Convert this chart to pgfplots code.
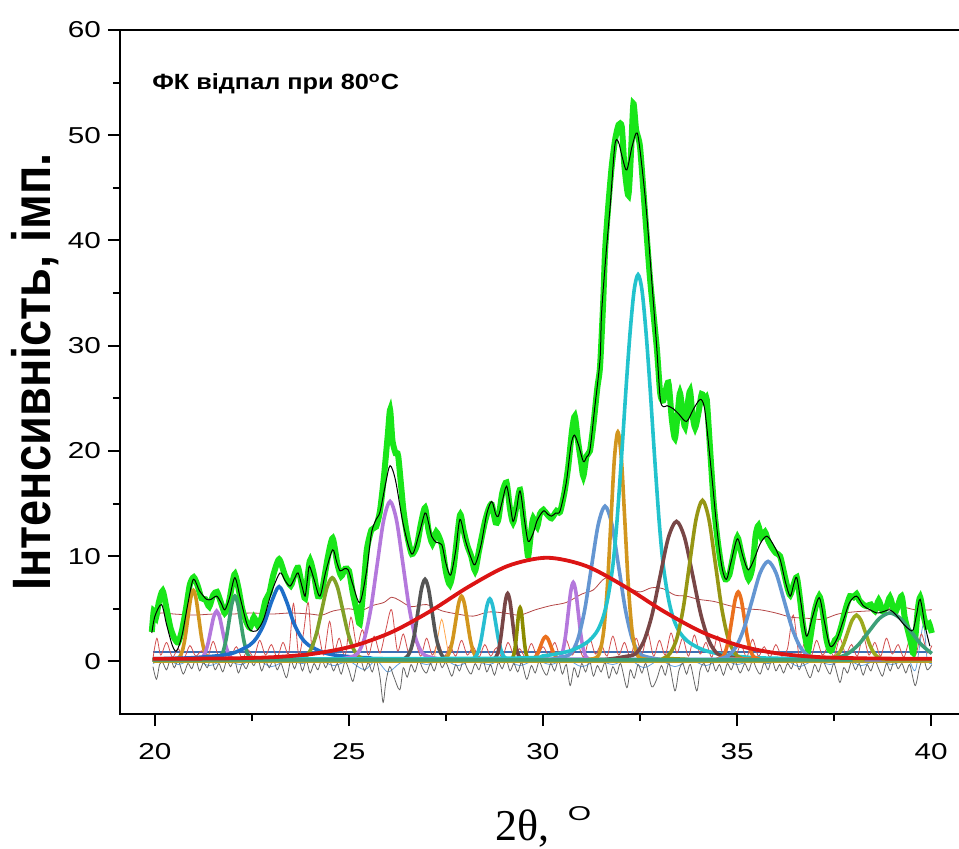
\documentclass[border=0pt]{standalone}
\usepackage{graphicx}
\usepackage{fontspec}
\setmainfont{Liberation Sans}
\newfontfamily\serifLS{Liberation Serif}
\usepackage{pgfplots}
\pgfplotsset{compat=1.18}
\definecolor{cgreen}{RGB}{25,230,25}
\definecolor{cgold}{RGB}{210,150,30}
\definecolor{cviolet}{RGB}{180,120,220}
\definecolor{cteal}{RGB}{60,160,110}
\definecolor{cblue}{RGB}{30,110,200}
\definecolor{colive}{RGB}{130,160,40}
\definecolor{cgray}{RGB}{85,85,85}
\definecolor{ccyan}{RGB}{40,190,210}
\definecolor{cbrown}{RGB}{120,70,70}
\definecolor{colive2}{RGB}{140,140,0}
\definecolor{corange}{RGB}{235,112,30}
\definecolor{csteel}{RGB}{100,150,210}
\definecolor{cbigcyan}{RGB}{35,195,205}
\definecolor{colive3}{RGB}{150,150,20}
\definecolor{cyolive}{RGB}{155,170,30}
\definecolor{cteal2}{RGB}{60,160,120}
\definecolor{cred}{RGB}{220,20,20}
\definecolor{cdred}{RGB}{180,70,70}
\definecolor{cres}{RGB}{210,80,80}
\definecolor{cbase}{RGB}{190,160,30}
\definecolor{cbline}{RGB}{60,110,180}
\definecolor{clblue}{RGB}{100,160,220}
\begin{document}
\begin{tikzpicture}
\begin{axis}[
  scale only axis,
  width=419.5pt, height=342pt,
  xmin=19.1, xmax=40.72, ymin=-5, ymax=60,
  clip=false,
  axis line style={draw=none},
  xtick={20,25,30,35,40}, ytick={0,10,20,30,40,50,60},
  minor x tick num=1, minor y tick num=1,
  xtick pos=left, ytick pos=left,
  tick align=outside,
  major tick length=6pt, minor tick length=3.5pt,
  every tick/.style={black, line width=1pt},
  /pgf/number format/assume math mode=true,
  tick label style={font=\fontsize{11.5}{13}\selectfont},
  xticklabel={\scalebox{1.29}[1]{\pgfmathprintnumber{\tick}}},
  yticklabel={\scalebox{1.29}[1]{\pgfmathprintnumber{\tick}}},
  xticklabel style={yshift=-5pt},
  every axis y label/.style={at={(axis description cs:-0.1013,0.5)},anchor=center,rotate=90},
  every axis x label/.style={at={(axis description cs:0.5048,-0.1842)},anchor=base},
  ylabel={\scalebox{1}[1.15]{\fontsize{23.5}{26}\selectfont\bfseries Інтенсивність, імп.}},
  xlabel={{\serifLS\fontsize{22}{26}\selectfont 2θ,}\hspace{9pt}\raisebox{10pt}{\scalebox{1.5}[1]{\fontsize{10}{12}\selectfont O}}},
  pk/.style={line width=1.8pt, smooth, mark=none},
  thin/.style={line width=0.4pt, mark=none},
]
% baselines and residuals
\addplot[thin, cbline, line width=0.6pt] coordinates {(19.95,0.9)(40.02,0.9)};
\addplot[thin, clblue, smooth, tension=0.5] coordinates {(19.95,-0.2)(20.3,0.3)(20.6,-0.3)(21.0,0.2)(21.4,-0.4)(21.8,0.1)(22.2,-0.3)(22.6,0.2)(23.0,-0.5)(23.4,0.1)(23.8,-0.2)(24.2,0.2)(24.6,-0.4)(25.0,0.0)(25.4,-0.8)(25.7,0.1)(26.0,-1.0)(26.3,-0.2)(26.6,0.2)(27.0,-0.3)(27.4,0.2)(27.8,-0.4)(28.2,0.1)(28.6,-0.3)(29.0,0.2)(29.4,-0.4)(29.8,0.1)(30.2,-0.3)(30.6,0.2)(31.0,-0.5)(31.4,0.1)(31.8,-0.3)(32.2,0.2)(32.6,-0.6)(33.0,0.1)(33.4,-0.5)(33.8,0.1)(34.2,-0.4)(34.6,0.2)(35.0,-0.3)(35.4,0.1)(35.8,-0.2)(36.2,0.2)(36.6,-0.5)(37.0,0.1)(37.4,-0.3)(37.8,0.2)(38.2,-0.4)(38.6,0.1)(39.0,-0.3)(39.4,0.2)(39.6,-0.8)(39.8,3.5)(39.9,0.2)(40.02,-0.2)};
\addplot[thin, gray!80!black, smooth, tension=0.5] coordinates {(19.95,-0.5)(20.04,-1.7)(20.12,-0.3)(20.2,-0.1)(20.3,-0.8)(20.4,0.2)(20.5,-0.6)(20.6,0.1)(20.73,-1.2)(20.85,-0.2)(20.95,-0.7)(21.05,0.2)(21.15,-0.9)(21.25,-0.1)(21.35,-0.6)(21.45,0.3)(21.55,-0.8)(21.65,-0.2)(21.75,-1.0)(21.85,0.1)(21.95,-0.5)(22.05,0.2)(22.15,-1.1)(22.25,-0.2)(22.35,-0.7)(22.45,0.1)(22.55,-0.4)(22.65,0.3)(22.75,-0.9)(22.85,0.0)(22.95,-0.6)(23.05,0.2)(23.15,-0.8)(23.25,-0.2)(23.39,-1.55)(23.5,0.1)(23.6,-0.7)(23.7,0.3)(23.8,-0.9)(23.9,0.1)(24.0,-1.1)(24.1,-0.2)(24.2,-0.8)(24.3,0.2)(24.4,-0.6)(24.5,0.1)(24.6,-0.9)(24.7,-0.2)(24.8,-1.2)(24.9,0.0)(25.0,-0.8)(25.1,-1.9)(25.2,-0.4)(25.3,0.2)(25.4,-0.9)(25.5,-0.1)(25.6,-1.0)(25.7,0.1)(25.8,-1.5)(25.88,-3.9)(25.95,-2.0)(26.05,-0.5)(26.15,-1.4)(26.31,-2.7)(26.4,-0.6)(26.5,-1.5)(26.6,-0.3)(26.7,-1.0)(26.8,0.1)(26.9,-0.7)(27.0,-1.1)(27.1,-0.2)(27.2,-0.9)(27.3,0.2)(27.4,-0.6)(27.5,-0.1)(27.65,-1.4)(27.75,-0.3)(27.85,-0.9)(27.95,0.1)(28.05,-0.7)(28.15,-1.2)(28.25,-0.2)(28.35,-0.8)(28.45,0.2)(28.55,-1.0)(28.65,-0.3)(28.75,-1.3)(28.85,-0.1)(28.95,-0.7)(29.05,0.2)(29.15,-0.9)(29.25,-0.2)(29.35,-1.0)(29.45,-0.1)(29.58,-1.7)(29.7,-0.4)(29.8,-1.1)(29.9,0.0)(30.0,-0.8)(30.1,-1.3)(30.2,-0.2)(30.3,-0.9)(30.4,0.1)(30.5,-1.2)(30.6,-0.3)(30.7,-2.3)(30.8,-0.6)(30.9,-1.5)(31.0,-0.2)(31.1,-1.0)(31.2,0.1)(31.3,-1.4)(31.4,-0.4)(31.5,-1.0)(31.6,-0.1)(31.7,-1.6)(31.8,-0.5)(31.9,-1.2)(32.0,-0.2)(32.16,-2.5)(32.25,-0.8)(32.35,-1.6)(32.45,-0.3)(32.55,-1.1)(32.65,-0.2)(32.8,-2.4)(32.93,-1.7)(33.05,-0.4)(33.15,-1.3)(33.25,-0.2)(33.4,-2.8)(33.5,-0.9)(33.6,-0.2)(33.7,-1.2)(33.8,-0.3)(33.96,-2.8)(34.05,-0.8)(34.15,-0.2)(34.25,-1.0)(34.35,0.1)(34.45,-0.9)(34.55,-0.3)(34.65,-1.3)(34.75,-0.2)(34.85,-0.8)(34.95,0.0)(35.08,-1.1)(35.2,-0.2)(35.3,-0.9)(35.4,0.1)(35.5,-0.7)(35.6,-1.2)(35.7,-0.1)(35.8,-0.8)(35.9,0.2)(36.0,-0.9)(36.1,-0.3)(36.2,-1.1)(36.3,-0.2)(36.4,-0.7)(36.5,0.2)(36.6,-0.8)(36.7,-0.1)(36.88,-1.55)(37.0,-0.3)(37.1,-1.0)(37.2,0.1)(37.3,-0.6)(37.4,-1.2)(37.5,-0.2)(37.65,-2.0)(37.75,-0.6)(37.85,-1.1)(37.95,0.0)(38.05,-0.8)(38.15,-0.2)(38.25,-1.3)(38.35,-0.3)(38.45,-0.9)(38.55,0.1)(38.65,-0.7)(38.75,-1.4)(38.85,-0.2)(38.95,-0.9)(39.05,0.1)(39.15,-0.7)(39.25,-0.2)(39.35,-1.1)(39.45,-0.3)(39.59,-2.3)(39.7,-0.6)(39.8,0.3)(39.9,-0.8)(40.02,-0.3)};
\addplot[thin, cres, smooth, tension=0.5] coordinates {(19.95,0.3)(20.05,2.2)(20.15,0.6)(20.3,1.8)(20.45,0.4)(20.6,1.2)(20.75,0.3)(20.9,1.5)(21.05,0.5)(21.2,1.0)(21.35,0.3)(21.5,1.9)(21.65,0.4)(21.8,1.2)(21.95,0.5)(22.1,1.4)(22.25,0.3)(22.4,1.1)(22.55,0.4)(22.7,2.0)(22.85,0.6)(23.0,1.6)(23.15,0.4)(23.3,1.8)(23.45,0.8)(23.57,5.5)(23.7,0.7)(23.82,2.5)(23.95,5.6)(24.05,1.2)(24.2,2.8)(24.35,0.6)(24.5,3.8)(24.62,1.0)(24.75,2.2)(24.9,0.5)(25.05,4.2)(25.2,1.5)(25.35,3.0)(25.5,0.6)(25.65,2.4)(25.8,0.8)(25.95,3.0)(26.1,4.9)(26.25,1.0)(26.4,2.6)(26.55,0.7)(26.7,1.9)(26.85,0.5)(27.0,2.2)(27.15,0.6)(27.3,1.8)(27.45,0.4)(27.6,1.5)(27.75,0.5)(27.9,2.0)(28.05,0.6)(28.2,1.4)(28.35,0.4)(28.5,1.6)(28.65,0.5)(28.8,1.3)(28.95,0.4)(29.1,1.8)(29.25,0.6)(29.4,1.2)(29.55,0.4)(29.7,1.7)(29.85,0.5)(30.0,1.4)(30.15,0.6)(30.3,1.8)(30.45,0.5)(30.6,2.0)(30.75,0.6)(30.9,1.5)(31.05,0.4)(31.2,2.2)(31.35,0.7)(31.5,1.6)(31.65,0.5)(31.8,2.4)(31.95,0.6)(32.1,1.8)(32.25,0.4)(32.4,2.2)(32.55,0.7)(32.7,2.7)(32.85,0.5)(33.0,2.0)(33.15,0.6)(33.3,2.7)(33.45,0.8)(33.6,2.2)(33.75,0.5)(33.9,2.5)(34.05,0.7)(34.2,1.8)(34.35,0.4)(34.5,2.4)(34.65,0.6)(34.8,2.3)(34.95,0.5)(35.1,1.6)(35.25,0.4)(35.4,2.1)(35.55,0.5)(35.7,1.4)(35.85,0.4)(36.0,1.6)(36.15,0.5)(36.3,1.2)(36.45,4.4)(36.6,0.6)(36.75,1.8)(36.9,0.4)(37.05,2.0)(37.2,0.6)(37.35,1.4)(37.5,0.5)(37.65,2.2)(37.8,0.7)(37.95,1.6)(38.1,0.5)(38.25,2.4)(38.4,0.6)(38.55,1.8)(38.7,0.5)(38.85,2.2)(39.0,0.7)(39.15,1.6)(39.3,0.4)(39.45,2.0)(39.6,0.6)(39.75,2.6)(39.9,0.8)(40.02,1.5)};
\addplot[thin, cdred, smooth] coordinates {(19.92,4.5)(20.2,4.6)(20.5,4.5)(21,4.4)(21.5,4.5)(22,4.5)(22.5,4.6)(23,4.5)(23.5,4.6)(24,4.5)(24.3,4.4)(24.6,4.8)(25,5.0)(25.3,4.8)(25.6,5.3)(25.9,5.6)(26.1,6.1)(26.3,5.8)(26.6,5.2)(27,5.4)(27.4,4.8)(27.8,4.5)(28.2,4.3)(28.6,4.7)(29,4.6)(29.4,4.4)(29.8,4.9)(30.2,5.3)(30.6,5.6)(31,6.4)(31.3,6.8)(31.6,7.9)(31.9,7.5)(32.2,7.0)(32.5,6.6)(32.8,7.0)(33.1,6.9)(33.4,6.3)(33.7,6.2)(34,5.9)(34.4,5.7)(34.8,5.3)(35.2,5.0)(35.6,4.9)(36,4.6)(36.4,4.2)(36.8,4.1)(37.2,4.0)(37.6,4.5)(38,4.7)(38.4,4.8)(38.8,4.9)(39.2,5.2)(39.6,4.9)(40.02,4.9)};
\addplot[thin, orange!70!white, smooth] coordinates {(27.2,0.3)(27.3,2.5)(27.39,4.0)(27.48,2.5)(27.58,0.3)};
\addplot[cbase, line width=1.5pt, mark=none] coordinates {(19.95,0.0)(40.02,0.0)};
% experimental (green)
\addplot[cgreen, line width=3pt, smooth, tension=0.4, mark=none] coordinates {(19.92,2.8)(19.97,4.8)(20.03,4.2)(20.1,5.6)(20.2,6.7)(20.3,5.0)(20.4,3.2)(20.5,2.2)(20.6,1.8)(20.7,3.0)(20.8,5.0)(20.9,7.3)(21.0,8.0)(21.1,7.2)(21.2,6.0)(21.3,5.9)(21.4,5.2)(21.5,6.3)(21.6,6.6)(21.7,5.6)(21.8,4.6)(21.9,5.5)(22.0,7.5)(22.06,8.3)(22.15,7.0)(22.25,5.0)(22.35,3.8)(22.45,3.2)(22.55,4.2)(22.65,3.4)(22.75,4.2)(22.85,5.8)(22.95,6.5)(23.05,8.2)(23.2,9.7)(23.35,8.2)(23.5,7.2)(23.6,8.3)(23.69,8.9)(23.8,7.0)(23.87,6.0)(23.95,8.5)(24.0,9.6)(24.1,8.2)(24.2,6.2)(24.3,6.6)(24.45,9.8)(24.58,11.7)(24.7,9.3)(24.8,8.1)(24.9,8.8)(25.0,8.6)(25.1,6.5)(25.2,4.8)(25.28,3.6)(25.37,6.8)(25.46,10.6)(25.58,12.5)(25.7,12.8)(25.8,14.3)(25.9,17.5)(26.0,21.5)(26.06,23.9)(26.12,21.0)(26.2,19.8)(26.27,19.5)(26.4,14.5)(26.5,12.0)(26.62,10.2)(26.75,11.0)(26.85,13.0)(26.96,14.6)(27.05,12.5)(27.15,11.2)(27.25,12.3)(27.39,11.1)(27.5,8.5)(27.6,7.3)(27.7,9.0)(27.86,13.9)(27.95,12.5)(28.05,11.0)(28.15,10.0)(28.25,8.6)(28.35,10.5)(28.5,13.2)(28.6,14.5)(28.68,14.9)(28.78,13.2)(28.85,13.5)(28.95,16.0)(29.06,17.0)(29.15,14.5)(29.23,13.2)(29.32,14.8)(29.41,16.3)(29.5,13.5)(29.58,11.0)(29.62,10.0)(29.7,12.5)(29.75,13.6)(29.85,12.8)(29.92,14.0)(30.01,14.4)(30.1,14.0)(30.22,13.6)(30.35,14.3)(30.44,14.2)(30.55,16.0)(30.65,18.5)(30.75,22.0)(30.82,23.3)(30.9,21.0)(30.98,19.0)(31.04,17.6)(31.12,19.5)(31.21,20.0)(31.3,22.5)(31.4,26.0)(31.47,28.0)(31.55,34.0)(31.6,39.0)(31.68,43.2)(31.77,47.0)(31.86,49.6)(31.95,51.0)(32.03,50.8)(32.1,47.0)(32.2,44.3)(32.27,48.5)(32.33,53.0)(32.4,50.5)(32.5,48.9)(32.63,42.6)(32.76,36.3)(32.93,29.9)(33.02,25.5)(33.1,24.8)(33.23,26.5)(33.32,23.0)(33.4,21.2)(33.47,23.5)(33.53,25.5)(33.6,23.5)(33.66,22.3)(33.73,24.5)(33.79,25.7)(33.85,23.5)(33.92,22.2)(34.0,23.5)(34.09,25.4)(34.16,24.8)(34.22,24.9)(34.3,20.5)(34.4,15.0)(34.5,11.5)(34.6,9.0)(34.7,7.8)(34.8,8.2)(34.9,10.0)(35.01,11.8)(35.1,10.5)(35.2,9.0)(35.3,7.8)(35.4,9.0)(35.48,12.0)(35.55,12.9)(35.63,11.8)(35.72,12.3)(35.8,11.5)(35.9,10.8)(36.0,10.3)(36.11,10.0)(36.2,8.6)(36.3,7.0)(36.37,6.3)(36.45,7.2)(36.54,8.0)(36.62,6.0)(36.7,3.5)(36.8,1.5)(36.84,1.1)(36.9,2.5)(37.0,4.8)(37.12,6.2)(37.2,5.0)(37.3,2.2)(37.38,1.1)(37.44,1.1)(37.52,2.0)(37.6,2.3)(37.7,3.5)(37.8,5.0)(37.91,6.2)(38.0,6.1)(38.08,6.4)(38.15,5.8)(38.25,5.4)(38.34,5.25)(38.45,5.4)(38.55,4.8)(38.65,5.8)(38.75,4.8)(38.85,5.2)(38.94,6.1)(39.03,5.0)(39.1,4.8)(39.24,6.2)(39.32,4.2)(39.4,3.0)(39.5,1.5)(39.54,0.8)(39.6,2.5)(39.66,5.0)(39.72,6.1)(39.8,4.5)(39.88,3.3)(39.95,3.6)(40.02,2.7)};
% peaks
\addplot[pk, cgold] coordinates {(19.95,0.15)(20.43,0.15)(20.57,0.22)(20.64,0.44)(20.71,1.04)(20.78,2.29)(20.85,4.15)(20.92,5.97)(20.99,6.75)(21.06,5.97)(21.13,4.15)(21.20,2.29)(21.27,1.04)(21.34,0.44)(21.41,0.22)(21.55,0.15)(40.02,0.15)};
\addplot[pk, cviolet] coordinates {(19.95,0.15)(20.99,0.15)(21.14,0.20)(21.215,0.35)(21.29,0.78)(21.365,1.65)(21.44,2.96)(21.515,4.24)(21.59,4.78)(21.665,4.24)(21.74,2.96)(21.815,1.65)(21.89,0.78)(21.965,0.35)(22.04,0.20)(22.19,0.15)(40.02,0.15)};
\addplot[pk, cteal] coordinates {(19.95,0.15)(21.46,0.15)(21.61,0.22)(21.685,0.42)(21.76,0.97)(21.835,2.11)(21.91,3.82)(21.985,5.49)(22.06,6.2)(22.135,5.49)(22.21,3.82)(22.285,2.11)(22.36,0.97)(22.435,0.42)(22.51,0.22)(22.66,0.15)(40.02,0.15)};
\addplot[pk, cblue] coordinates {(19.95,0.25)(20.92,0.34)(21.68,0.56)(22.06,0.85)(22.44,1.54)(22.63,2.29)(22.82,3.63)(23.01,5.71)(23.2,7.1)(23.39,5.71)(23.58,3.63)(23.77,2.29)(23.96,1.54)(24.34,0.85)(24.72,0.56)(25.48,0.34)(27.0,0.22)(40.02,0.16)};
\addplot[pk, colive] coordinates {(19.95,0.15)(23.49,0.15)(23.76,0.24)(23.895,0.49)(24.03,1.21)(24.165,2.68)(24.30,4.88)(24.435,7.03)(24.57,7.95)(24.705,7.03)(24.84,4.88)(24.975,2.68)(25.11,1.21)(25.245,0.49)(25.38,0.24)(25.65,0.15)(40.02,0.15)};
\addplot[pk, cviolet] coordinates {(19.95,0.15)(24.41,0.15)(24.74,0.2)(25.07,0.45)(25.235,0.81)(25.40,2.19)(25.565,5.04)(25.73,9.28)(25.895,13.43)(26.06,15.2)(26.225,13.43)(26.39,9.28)(26.555,5.04)(26.72,2.19)(26.885,0.81)(27.05,0.45)(27.38,0.2)(27.71,0.15)(40.02,0.15)};
\addplot[pk, cgray] coordinates {(19.95,0.15)(26.24,0.15)(26.42,0.235)(26.51,0.49)(26.60,1.19)(26.69,2.63)(26.78,4.79)(26.87,6.9)(26.96,7.8)(27.05,6.9)(27.14,4.79)(27.23,2.63)(27.32,1.19)(27.41,0.49)(27.50,0.235)(27.68,0.15)(40.02,0.15)};
\addplot[pk, cgold] coordinates {(19.95,0.15)(27.30,0.15)(27.45,0.22)(27.525,0.42)(27.60,0.97)(27.675,2.11)(27.75,3.82)(27.825,5.49)(27.9,6.2)(27.975,5.49)(28.05,3.82)(28.125,2.11)(28.20,0.97)(28.275,0.42)(28.35,0.22)(28.50,0.15)(40.02,0.15)};
\addplot[pk, ccyan] coordinates {(19.95,0.15)(28.03,0.15)(28.18,0.21)(28.255,0.40)(28.33,0.93)(28.405,2.03)(28.48,3.67)(28.555,5.27)(28.63,5.95)(28.705,5.27)(28.78,3.67)(28.855,2.03)(28.93,0.93)(29.005,0.40)(29.08,0.21)(29.23,0.15)(40.02,0.15)};
\addplot[pk, cbrown] coordinates {(19.95,0.15)(28.61,0.15)(28.73,0.22)(28.79,0.43)(28.85,1.0)(28.91,2.2)(28.97,3.97)(29.03,5.71)(29.09,6.45)(29.15,5.71)(29.21,3.97)(29.27,2.2)(29.33,1.0)(29.39,0.43)(29.45,0.22)(29.57,0.15)(40.02,0.15)};
\addplot[pk, colive2] coordinates {(19.95,0.15)(29.11,0.15)(29.185,0.2)(29.2225,0.37)(29.26,0.82)(29.2975,1.76)(29.335,3.15)(29.3725,4.52)(29.41,5.1)(29.4475,4.52)(29.485,3.15)(29.5225,1.76)(29.56,0.82)(29.5975,0.37)(29.635,0.2)(29.71,0.15)(40.02,0.15)};
\addplot[pk, corange] coordinates {(19.95,0.15)(29.55,0.15)(29.68,0.17)(29.745,0.25)(29.81,0.45)(29.875,0.86)(29.94,1.48)(30.005,2.09)(30.07,2.35)(30.135,2.09)(30.20,1.48)(30.265,0.86)(30.33,0.45)(30.395,0.25)(30.46,0.17)(30.59,0.15)(40.02,0.15)};
\addplot[pk, cviolet] coordinates {(19.95,0.15)(30.26,0.15)(30.39,0.23)(30.455,0.47)(30.52,1.14)(30.585,2.54)(30.65,4.61)(30.715,6.64)(30.78,7.5)(30.845,6.64)(30.91,4.61)(30.975,2.54)(31.04,1.14)(31.105,0.47)(31.17,0.23)(31.30,0.15)(40.02,0.15)};
\addplot[pk, csteel] coordinates {(19.95,0.15)(29.85,0.15)(30.20,0.2)(30.55,0.45)(30.725,0.79)(30.90,2.13)(31.075,4.89)(31.25,9.0)(31.425,13.03)(31.6,14.75)(31.775,13.03)(31.95,9.0)(32.125,4.89)(32.30,2.13)(32.475,0.79)(32.65,0.45)(33.00,0.2)(33.35,0.15)(40.02,0.15)};
\addplot[pk, cgold] coordinates {(19.95,0.15)(30.9,0.15)(31.21,0.2)(31.39,0.39)(31.48,1.10)(31.57,3.08)(31.66,7.18)(31.75,13.28)(31.84,19.26)(31.93,21.8)(32.02,19.26)(32.11,13.28)(32.20,7.18)(32.29,3.08)(32.38,1.10)(32.47,0.39)(32.65,0.2)(32.95,0.15)(40.02,0.15)};
\addplot[pk, cbigcyan] coordinates {(19.95,0.2)(28.95,0.3)(30.05,0.55)(30.65,0.95)(30.95,1.4)(31.20,2.0)(31.40,2.9)(31.55,4.2)(31.67,6.0)(31.80,9.1)(31.90,13.0)(32.02,19.2)(32.15,26.5)(32.25,31.5)(32.35,35.3)(32.45,36.75)(32.55,35.3)(32.65,31.5)(32.75,26.5)(32.88,19.2)(33.00,13.0)(33.10,9.1)(33.23,6.0)(33.35,4.2)(33.50,2.9)(33.70,2.0)(33.95,1.4)(34.25,0.95)(34.85,0.55)(35.95,0.3)(40.02,0.2)};
\addplot[pk, cbrown] coordinates {(19.95,0.15)(31.34,0.15)(31.76,0.25)(32.18,0.5)(32.39,0.73)(32.60,1.93)(32.81,4.42)(33.02,8.13)(33.23,11.75)(33.44,13.3)(33.65,11.75)(33.86,8.13)(34.07,4.42)(34.28,1.93)(34.49,0.73)(34.70,0.5)(35.12,0.25)(35.54,0.15)(40.02,0.15)};
\addplot[pk, colive3] coordinates {(19.95,0.15)(32.79,0.15)(33.12,0.32)(33.285,0.82)(33.45,2.2)(33.615,5.07)(33.78,9.34)(33.945,13.52)(34.11,15.3)(34.275,13.52)(34.44,9.34)(34.605,5.07)(34.77,2.2)(34.935,0.82)(35.10,0.32)(35.43,0.15)(40.02,0.15)};
\addplot[pk, corange] coordinates {(19.95,0.15)(34.39,0.15)(34.55,0.3)(34.63,0.43)(34.71,1.02)(34.79,2.24)(34.87,4.06)(34.95,5.84)(35.03,6.6)(35.11,5.84)(35.19,4.06)(35.27,2.24)(35.35,1.02)(35.43,0.43)(35.51,0.3)(35.67,0.15)(40.02,0.15)};
\addplot[pk, csteel] coordinates {(19.95,0.15)(34.16,0.15)(34.57,0.25)(34.775,0.56)(34.98,1.42)(35.185,3.19)(35.39,5.82)(35.595,8.4)(35.8,9.5)(36.005,8.4)(36.21,5.82)(36.415,3.19)(36.62,1.42)(36.825,0.56)(37.03,0.25)(37.44,0.15)(40.02,0.15)};
\addplot[pk, cyolive] coordinates {(19.95,0.15)(37.16,0.15)(37.39,0.2)(37.505,0.34)(37.62,0.73)(37.735,1.53)(37.85,2.73)(37.965,3.9)(38.08,4.4)(38.195,3.9)(38.31,2.73)(38.425,1.53)(38.54,0.73)(38.655,0.34)(38.77,0.2)(39.0,0.15)(40.02,0.15)};
\addplot[pk, cteal2] coordinates {(19.95,0.15)(36.78,0.15)(37.32,0.2)(37.59,0.35)(37.86,0.75)(38.13,1.59)(38.40,2.85)(38.67,4.08)(38.94,4.6)(39.21,4.08)(39.48,2.85)(39.75,1.59)(40.02,0.75)};
% broad amorphous halo
\addplot[cred, line width=1.9pt, smooth, mark=none] coordinates {(19.95,0.25)(21.0,0.26)(22.1,0.30)(23.1,0.41)(24.1,0.73)(25.1,1.45)(26.1,2.78)(27.1,4.78)(28.1,7.13)(29.1,9.08)(30.1,9.85)(31.1,9.08)(32.1,7.13)(33.1,4.78)(34.1,2.78)(35.1,1.45)(36.1,0.73)(37.1,0.41)(38.1,0.30)(39.0,0.26)(40.02,0.25)};
% cumulative fit (black)
\addplot[black, line width=0.5pt, smooth, tension=0.5, mark=none] coordinates {(19.92,2.7)(20.0,4.3)(20.17,5.4)(20.3,3.5)(20.45,1.5)(20.56,1.0)(20.7,2.5)(20.85,5.5)(20.99,7.8)(21.15,6.7)(21.33,5.9)(21.45,5.9)(21.59,6.2)(21.7,5.6)(21.8,4.9)(21.92,6.0)(22.06,7.95)(22.2,6.0)(22.35,3.8)(22.45,3.0)(22.62,2.9)(22.8,4.0)(23.0,6.5)(23.22,8.4)(23.35,7.7)(23.48,7.15)(23.6,7.9)(23.69,8.4)(23.8,7.0)(23.87,6.2)(23.93,7.8)(23.98,9.05)(24.1,7.8)(24.25,6.2)(24.4,8.5)(24.58,10.6)(24.68,9.5)(24.77,8.6)(24.88,8.8)(24.98,8.7)(25.1,7.3)(25.28,5.6)(25.45,8.5)(25.58,12.2)(25.7,13.5)(25.8,14.2)(25.95,17.0)(26.06,18.6)(26.2,17.2)(26.4,13.0)(26.62,10.2)(26.8,12.0)(26.96,14.1)(27.05,13.2)(27.13,11.9)(27.25,11.3)(27.39,11.1)(27.5,9.3)(27.62,8.2)(27.75,10.5)(27.86,13.5)(28.0,11.5)(28.15,9.8)(28.25,9.2)(28.4,11.0)(28.55,14.0)(28.68,15.2)(28.78,14.0)(28.85,13.8)(28.95,15.2)(29.06,16.65)(29.15,15.0)(29.23,13.3)(29.32,14.5)(29.41,16.2)(29.52,13.5)(29.62,11.4)(29.75,12.2)(29.85,13.4)(30.01,14.3)(30.12,14.0)(30.22,13.8)(30.33,14.1)(30.44,14.3)(30.6,17.0)(30.72,20.5)(30.81,21.5)(30.92,20.5)(31.04,19.0)(31.12,19.4)(31.21,20.1)(31.33,24.0)(31.47,28.7)(31.51,33.1)(31.62,38.5)(31.73,43.2)(31.85,49.0)(31.94,49.4)(32.05,47.8)(32.16,46.7)(32.3,49.0)(32.43,50.2)(32.55,47.0)(32.67,42.6)(32.8,36.3)(32.93,29.9)(33.02,25.0)(33.1,24.2)(33.2,24.3)(33.36,24.0)(33.5,23.5)(33.7,22.8)(33.88,24.0)(34.05,24.9)(34.15,24.3)(34.22,22.3)(34.35,17.6)(34.5,12.0)(34.62,8.8)(34.73,7.8)(34.85,9.5)(35.01,11.65)(35.15,10.0)(35.29,8.7)(35.45,9.8)(35.6,11.2)(35.77,11.9)(35.95,11.0)(36.11,9.7)(36.25,7.5)(36.37,6.2)(36.46,7.3)(36.54,7.95)(36.65,5.5)(36.79,2.4)(36.95,4.3)(37.12,6.05)(37.25,3.8)(37.4,1.45)(37.57,2.1)(37.75,4.0)(37.9,5.6)(38.08,6.2)(38.25,5.3)(38.43,4.9)(38.6,4.6)(38.75,4.7)(38.94,4.9)(39.1,4.4)(39.3,3.5)(39.45,3.0)(39.54,3.0)(39.63,4.5)(39.72,5.9)(39.85,3.3)(39.97,1.45)};
% axis lines (left, bottom, top)
\draw[line width=1pt] (rel axis cs:0,1) -- (rel axis cs:0,0) -- (rel axis cs:1,0);
\draw[line width=1pt] (rel axis cs:0,1) -- (rel axis cs:1,1);
\node[anchor=base west, font=\fontsize{11}{13}\selectfont\bfseries] at (axis cs:19.75,54.3) {\scalebox{1.15}[1]{ФК відпал при 80\textsuperscript{o}C}};
\coordinate (bl) at (rel axis cs:0,0);
\coordinate (tr) at (rel axis cs:1,1);
\end{axis}
\pgfresetboundingbox
\path[use as bounding box] ([shift={(-60pt,-67pt)}]bl) rectangle ([shift={(0pt,15pt)}]tr);
\end{tikzpicture}
\end{document}
